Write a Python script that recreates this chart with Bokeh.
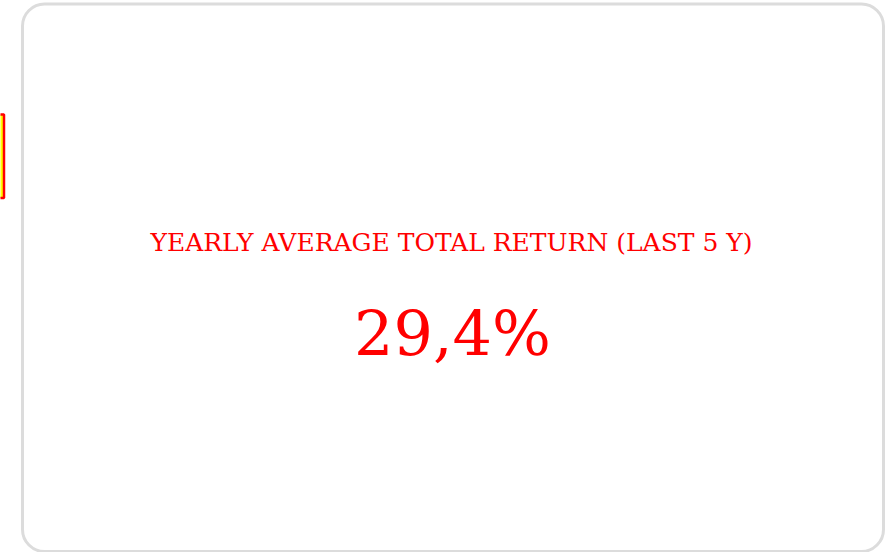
from bokeh.plotting import figure
from bokeh.models import Range1d, ColumnDataSource
from bokeh.core.properties import value
from bokeh.embed import file_html
from bokeh.resources import INLINE

# data
title_text = ["YEARLY AVERAGE TOTAL RETURN (LAST 5 Y)"]
kpi_value = [29.4]
kpi_label = [f"{v:.1f}".replace(".", ",") + "%" for v in kpi_value]

W, H = 888, 552
p = figure(width=W, height=H, output_backend="svg", toolbar_location=None,
           x_range=Range1d(0, W), y_range=Range1d(H, 0),
           min_border=0, outline_line_color=None)
p.axis.visible = False
p.grid.visible = False
p.background_fill_color = "white"
p.border_fill_color = "white"

# card
p.quad(left=[22], right=[883], top=[3.5], bottom=[551], fill_color="white",
       line_color="#dcdcdc", line_width=3, border_radius=22)

# side marker
p.quad(left=[-6], right=[3.5], top=[114], bottom=[197.5], fill_color="#ffff00",
       line_color="#ff0000", line_width=2.5)

src = ColumnDataSource(dict(x=[451], y=[242], t=title_text))
p.text(x="x", y="y", text="t", source=src, text_align="center", text_baseline="middle",
       text_color="#ff0000", text_font=value("DejaVu Serif"), text_font_size="25px")

src2 = ColumnDataSource(dict(x=[452], y=[333], t=kpi_label))
p.text(x="x", y="y", text="t", source=src2, text_align="center", text_baseline="middle",
       text_color="#ff0000", text_font=value("DejaVu Serif"), text_font_size="62px")

open("out.html", "w").write(file_html(p, INLINE))
